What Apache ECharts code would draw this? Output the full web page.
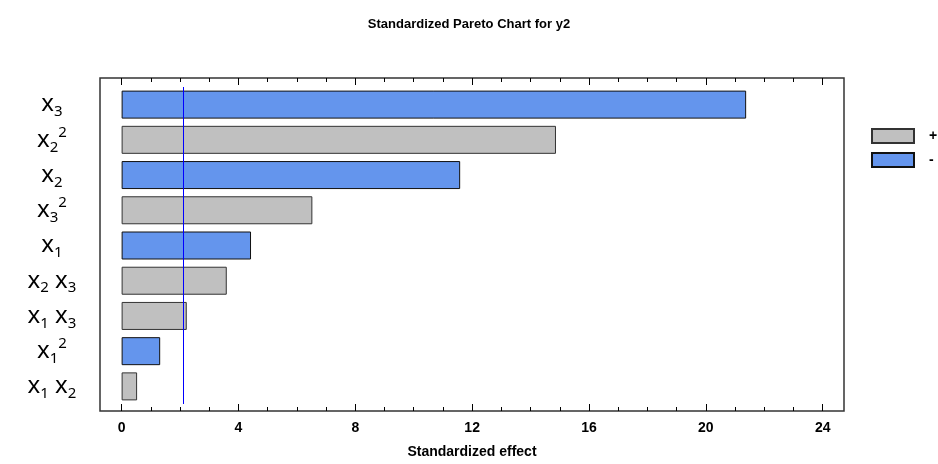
<!DOCTYPE html>
<html>
<head>
<meta charset="utf-8">
<script src="https://cdn.jsdelivr.net/npm/echarts@6/dist/echarts.min.js"></script>
<style>
  html, body { margin: 0; padding: 0; background: #fff; }
  #chart { width: 938px; height: 464px; }
</style>
</head>
<body>
<div id="chart"></div>
<script>
// terms, top to bottom
var categories = ['x3', 'x2^2', 'x2', 'x3^2', 'x1', 'x2 x3', 'x1 x3', 'x1^2', 'x1 x2'];
var effects = [21.38, 14.87, 11.59, 6.53, 4.43, 3.60, 2.23, 1.32, 0.53];
var signs = ['-', '+', '-', '+', '-', '+', '+', '-', '+'];
var xTicks = [0, 4, 8, 12, 16, 20, 24];
var xMinorTicks = [0, 1, 2, 3, 4, 5, 6, 7, 8, 9, 10, 11, 12, 13, 14, 15, 16, 17, 18, 19, 20, 21, 22, 23, 24];
var critical = 2.12;

var xMin = -0.74, xMax = 24.73;
var gridL = 100, gridR = 94;

function termLabel(v) {
  return v.split(' ').map(function (t) {
    var m = t.match(/x(\d)(\^2)?/);
    var s = '{x|x}{sub|' + m[1] + '}';
    if (m[2]) s += '{sup|2}';
    return s;
  }).join('{x| }');
}

var plusData = effects.map(function (v, i) { return signs[i] === '+' ? v : '-'; });
var minusData = effects.map(function (v, i) { return signs[i] === '-' ? v : '-'; });

var tickLabelFont = { fontFamily: 'Liberation Sans Narrow, Liberation Sans, Arial, sans-serif', fontWeight: 'bold', fontSize: 14, color: '#000' };

function frameAxis(pos, values, len, labels) {
  return {
    type: 'value', gridIndex: 1, position: pos, min: xMin, max: xMax,
    axisLine: { show: false },
    splitLine: { show: false },
    axisTick: { show: true, inside: true, length: len, customValues: values, lineStyle: { color: '#000', width: 1 } },
    axisLabel: labels ? Object.assign({ show: true, customValues: values, margin: 10 }, tickLabelFont) : { show: false },
    name: labels ? 'Standardized effect' : '',
    nameLocation: 'middle',
    nameGap: 34,
    nameTextStyle: tickLabelFont
  };
}

var chart = echarts.init(document.getElementById('chart'), null, { renderer: 'canvas' });
chart.setOption({
  animation: false,
  title: {
    text: 'Standardized Pareto Chart for y2',
    left: 'center',
    top: 13,
    textStyle: { fontFamily: 'Liberation Sans, Arial, sans-serif', fontWeight: 'bold', fontSize: 13, color: '#000' }
  },
  legend: {
    orient: 'vertical',
    left: 871,
    top: 128,
    padding: 0,
    icon: 'rect',
    itemWidth: 42,
    itemHeight: 14,
    itemGap: 8,
    data: ['+', '-'],
    textStyle: { fontFamily: 'Liberation Sans, Arial, sans-serif', fontWeight: 'bold', fontSize: 14, color: '#000', padding: [0, 0, 0, 10] }
  },
  grid: [
    { left: gridL, right: gridR, top: 87, height: 317 },
    { left: gridL, right: gridR, top: 78, bottom: 51, show: true, borderColor: '#333', borderWidth: 1.5, backgroundColor: 'transparent' }
  ],
  xAxis: [
    { type: 'value', gridIndex: 0, min: xMin, max: xMax, show: false, splitLine: { show: false } },
    frameAxis('bottom', xTicks, 7, true),
    frameAxis('bottom', xMinorTicks, 4, false),
    frameAxis('top', xTicks, 7, false),
    frameAxis('top', xMinorTicks, 4, false)
  ],
  yAxis: [
    {
      type: 'category', gridIndex: 0, data: categories, inverse: true,
      axisLine: { show: false }, axisTick: { show: false }, splitLine: { show: false },
      axisLabel: {
        align: 'center', margin: 48,
        formatter: termLabel,
        rich: {
          x: { fontFamily: 'Noto Sans, sans-serif', fontSize: 24, lineHeight: 30, color: '#000' },
          sub: { fontFamily: 'Noto Sans, sans-serif', fontSize: 15, lineHeight: 20, verticalAlign: 'bottom', color: '#000' },
          sup: { fontFamily: 'Noto Sans, sans-serif', fontSize: 15, lineHeight: 18, verticalAlign: 'top', color: '#000' }
        }
      }
    },
    { type: 'value', gridIndex: 1, show: false, min: 0, max: 1 }
  ],
  series: [
    {
      name: '+', type: 'bar', stack: 'e', xAxisIndex: 0, yAxisIndex: 0, data: plusData, barWidth: 28,
      itemStyle: { color: '#c0c0c0', borderColor: '#333', borderWidth: 1 }
    },
    {
      name: '-', type: 'bar', stack: 'e', xAxisIndex: 0, yAxisIndex: 0, data: minusData, barWidth: 28,
      itemStyle: { color: '#6495ed', borderColor: '#111', borderWidth: 1 },
      markLine: {
        silent: true, symbol: 'none', label: { show: false },
        lineStyle: { color: '#0000ff', width: 1, type: 'solid' },
        data: [{ xAxis: critical }]
      }
    }
  ]
});
</script>
</body>
</html>
